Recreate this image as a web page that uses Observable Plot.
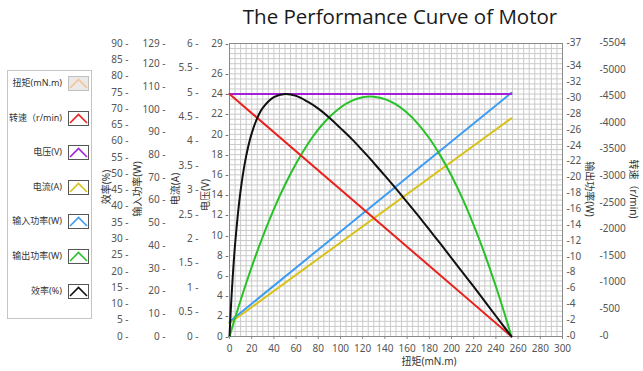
<!DOCTYPE html>
<html><head><meta charset="utf-8">
<script src="https://cdn.jsdelivr.net/npm/d3@7"></script>
<script src="https://cdn.jsdelivr.net/npm/@observablehq/plot@0.6"></script>
<style>
body{margin:0;background:#fff;font-family:"Noto Sans","Noto Sans CJK SC",sans-serif;}
#wrap{position:relative;width:643px;height:371px;overflow:hidden;background:#fff}
#wrap svg.plot{position:absolute;left:0;top:0}
#title{position:absolute;left:200px;width:400px;top:2px;text-align:center;font-size:20.5px;line-height:28px;color:#1a1a1a;font-family:"Open Sans","Noto Sans",sans-serif;z-index:2}
#legend{position:absolute;left:7px;top:70px;width:83px;height:247px;border:1px solid #c4c4c4;background:#fff;z-index:2}
.lrow{position:absolute;left:0;width:83px;height:16px}
.lrow span{position:absolute;right:29px;top:0;font-size:9px;line-height:16px;color:#333;white-space:nowrap}
.lrow svg{position:absolute;left:60px;top:1px}
</style></head>
<body>
<div id="wrap">
  <div id="title">The Performance Curve of Motor</div>
  <div id="legend"></div>
</div>
<script>
// ---------- data ----------
const title = "The Performance Curve of Motor";
const legendLabels = ["扭矩(mN.m)", "转速（r/min)", "电压(V)", "电流(A)", "输入功率(W)", "输出功率(W)", "效率(%)"];
const legendColors = ["#f3c598", "#e8221e", "#a51fd8", "#d8c21a", "#3d9cf2", "#27c227", "#111111"];

// straight-line series: endpoints (torque mN.m)
const lineTorque = [0, 254];
const speedRpm = [4555, 0];
const voltageV = [24, 24];
const currentA = [0.27, 4.47];
const inputPowerW = [6.5, 107.3];

// curved series
const curveTorque = [0, 1, 2, 5, 10, 15, 20, 25, 30, 40, 50, 60, 70, 80, 90, 100, 110, 120, 127, 130, 140, 150, 160, 170, 180, 190, 200, 210, 220, 230, 240, 250, 254];
const outputPowerW = [0, 0.48, 0.95, 2.34, 4.58, 6.73, 8.79, 10.75, 12.62, 16.08, 19.16, 21.86, 24.19, 26.15, 27.72, 28.92, 29.75, 30.20, 30.30, 30.28, 29.98, 29.30, 28.25, 26.83, 25.03, 22.84, 20.29, 17.37, 14.05, 10.38, 6.31, 1.88, 0];
const efficiencyPct = [0, 7.1, 13.3, 28.2, 44.8, 55.4, 62.4, 67.1, 70.2, 73.5, 74.5, 73.9, 72.2, 70.0, 67.2, 64.0, 60.7, 57.1, 54.5, 53.3, 49.4, 45.4, 41.3, 37.1, 32.8, 28.5, 24.1, 19.7, 15.3, 10.8, 6.3, 1.8, 0];

// axis ticks
const torqueTicks = [0, 20, 40, 60, 80, 100, 120, 140, 160, 180, 200, 220, 240, 260, 280, 300];
const effTicks = [0, 5, 10, 15, 20, 25, 30, 35, 40, 45, 50, 55, 60, 65, 70, 75, 80, 85, 90];
const inTicks = [0, 10, 20, 30, 40, 50, 60, 70, 80, 90, 100, 110, 120, 129];
const curTicks = [0, 0.5, 1, 1.5, 2, 2.5, 3, 3.5, 4, 4.5, 5, 5.5, 6];
const voltTicks = [0, 2, 4, 6, 8, 10, 12, 14, 16, 18, 20, 22, 24, 26, 29];
const outTicks = [0, 2, 4, 6, 8, 10, 12, 14, 16, 18, 20, 22, 24, 26, 28, 30, 32, 34, 37];
const rpmTicks = [0, 500, 1000, 1500, 2000, 2500, 3000, 3500, 4000, 4500, 5000, 5504];

// axis maxima (all axes share the same vertical extent)
const effMax = 90, inMax = 129, curMax = 6, voltMax = 29, outMax = 37, rpmMax = 5504, torqueMax = 300;

// ---------- build ----------
document.getElementById("title").textContent = title;
const toV = (v, max) => v * voltMax / max;

const linePts = (vals, max) => lineTorque.map((t, i) => ({t, y: toV(vals[i], max)}));
const curvePts = (vals, max) => curveTorque.map((t, i) => ({t, y: toV(vals[i], max)}));

const tickColor = "#555";
const fam = '"Noto Sans","Noto Sans CJK SC",sans-serif';

function leftTicks(ticks, max, dx) {
  return Plot.text(ticks, {y: d => toV(d, max), text: d => `${d} -`, frameAnchor: "left", dx, textAnchor: "end", fill: tickColor});
}
function rightTicks(ticks, max, dx) {
  return Plot.text(ticks, {y: d => toV(d, max), text: d => `-${d}`, frameAnchor: "right", dx, dy: -1, textAnchor: "start", fill: tickColor});
}
function sideLabel(label, anchor, dx, dy, rot) {
  return Plot.text([label], {frameAnchor: anchor, dx, dy, rotate: rot, textAnchor: "middle", fill: "#333", fontSize: 10});
}

const chart = Plot.plot({
  width: 643, height: 371,
  marginLeft: 229, marginRight: 81, marginTop: 43, marginBottom: 35,
  style: {background: "transparent", fontFamily: fam, fontSize: "10px", color: tickColor},
  x: {domain: [0, torqueMax], axis: null},
  y: {domain: [0, voltMax], axis: null},
  marks: [
    Plot.ruleX(d3.range(0, torqueMax + 0.01, 5), {stroke: "#cacaca", strokeWidth: 1}),
    Plot.ruleY(d3.range(0, voltMax + 0.01, 0.5), {stroke: "#cacaca", strokeWidth: 1}),
    Plot.frame({stroke: "#8a8a8a"}),
    Plot.line(linePts(currentA, curMax), {x: "t", y: "y", stroke: legendColors[3], strokeWidth: 2}),
    Plot.line(linePts(inputPowerW, inMax), {x: "t", y: "y", stroke: legendColors[4], strokeWidth: 2}),
    Plot.line(linePts(voltageV, voltMax), {x: "t", y: "y", stroke: legendColors[2], strokeWidth: 2}),
    Plot.line(curvePts(outputPowerW, outMax), {x: "t", y: "y", stroke: legendColors[5], strokeWidth: 2, curve: "catmull-rom"}),
    Plot.line(linePts(speedRpm, rpmMax), {x: "t", y: "y", stroke: legendColors[1], strokeWidth: 2}),
    Plot.line(curvePts(efficiencyPct, effMax), {x: "t", y: "y", stroke: legendColors[6], strokeWidth: 2, curve: "catmull-rom"}),
    Plot.axisX(torqueTicks, {tickSize: 3, tickPadding: 5, label: null, stroke: "#888", color: tickColor}),
    leftTicks(effTicks, effMax, -101),
    leftTicks(inTicks, inMax, -64),
    leftTicks(curTicks, curMax, -31),
    leftTicks(voltTicks, voltMax, -1),
    rightTicks(outTicks, outMax, 4),
    rightTicks(rpmTicks, rpmMax, 37),
    sideLabel("效率(%)", "left", -123, -3, -90),
    sideLabel("输入功率(W)", "left", -92, -1, -90),
    sideLabel("电流(A)", "left", -54, -1, -90),
    sideLabel("电压(V)", "left", -24, 5, -90),
    sideLabel("输出功率(W)", "right", 27, -1, 90),
    sideLabel("转速（r/min)", "right", 71, -1, 90),
    Plot.text(["扭矩(mN.m)"], {frameAnchor: "bottom", dx: 33, dy: 28, fill: "#333", fontSize: 10})
  ]
});
chart.classList.add("plot");
document.getElementById("wrap").appendChild(chart);

// legend
const legend = document.getElementById("legend");
legendLabels.forEach((lab, i) => {
  const row = document.createElement("div");
  row.className = "lrow";
  row.style.top = (4 + i * 34.6) + "px";
  const sp = document.createElement("span");
  sp.textContent = lab;
  row.appendChild(sp);
  const first = i === 0;
  const ns = "http://www.w3.org/2000/svg";
  const svg = document.createElementNS(ns, "svg");
  svg.setAttribute("width", 21); svg.setAttribute("height", 15);
  const r = document.createElementNS(ns, "rect");
  r.setAttribute("x", 0.5); r.setAttribute("y", 0.5); r.setAttribute("width", 20); r.setAttribute("height", 14);
  r.setAttribute("fill", first ? "#ece8e5" : "#fff");
  r.setAttribute("stroke", first ? "#c0c0c0" : "#555");
  svg.appendChild(r);
  const p = document.createElementNS(ns, "polyline");
  p.setAttribute("points", "2,12 10.5,3.5 19,12");
  p.setAttribute("fill", "none");
  p.setAttribute("stroke", legendColors[i]);
  p.setAttribute("stroke-width", 1.6);
  svg.appendChild(p);
  row.appendChild(svg);
  legend.appendChild(row);
});
</script>
</body></html>
